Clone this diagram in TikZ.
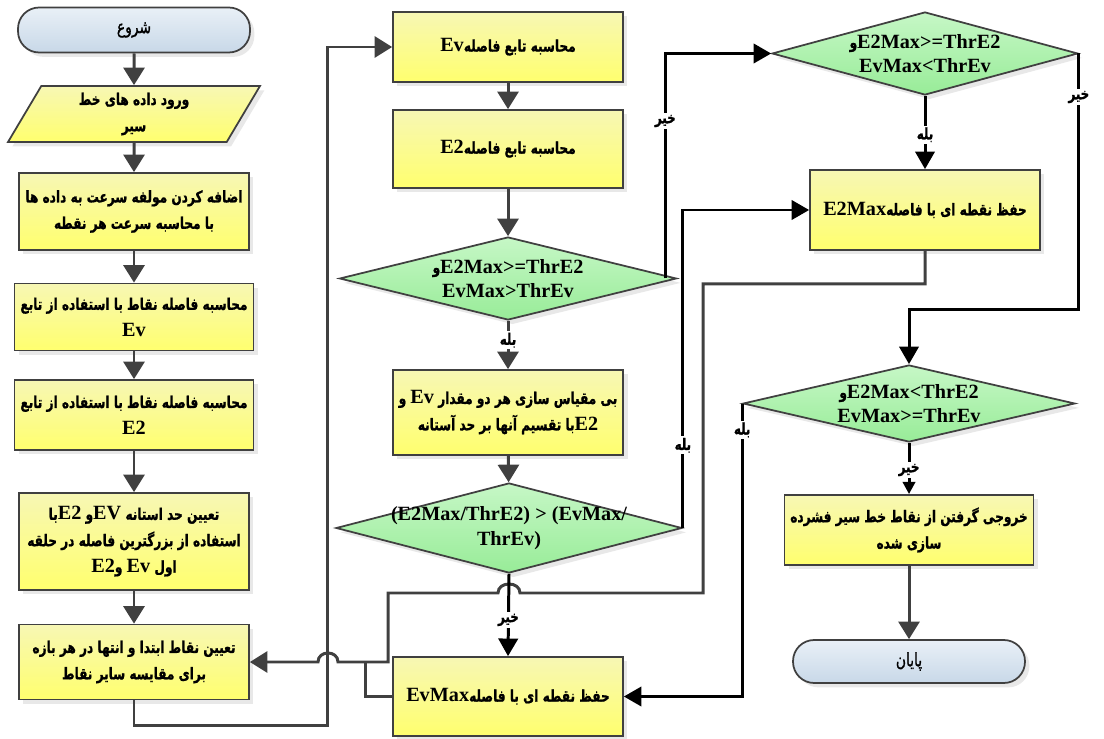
\documentclass[tikz,border=0pt]{standalone}
\usepackage{fontspec}
\usepackage{xcolor}
\usepackage{tikz}
\usetikzlibrary{shapes,arrows.meta,positioning,calc,shadows}
\TeXXeTstate=1
\newfontfamily\fafont[Script=Arabic,FakeStretch=0.75,FakeBold=1]{DejaVu Sans}
\newfontfamily\enfont{Liberation Serif}
\newcommand{\fa}[1]{{\fafont\beginR #1\endR}}
\newcommand{\en}[1]{\beginL{\enfont\fontsize{11.5}{16}\selectfont #1}\endL}
\definecolor{boxlt}{HTML}{F7F7B4}
\definecolor{boxdk}{HTML}{FFFF6E}
\definecolor{declt}{HTML}{C6F7C6}
\definecolor{decdk}{HTML}{98EC98}
\definecolor{termlt}{HTML}{E9F0F7}
\definecolor{termdk}{HTML}{C8D8E8}
\definecolor{linegray}{HTML}{404040}

\begin{document}
\begin{tikzpicture}[x=0.02cm,y=-0.02cm,
  every node/.style={align=center,font=\bfseries\fontsize{9.2}{15}\selectfont},
  shade/.style={drop shadow={shadow xshift=2.5pt,shadow yshift=-2.5pt,opacity=0.18}},
  procbox/.style={rectangle,draw=linegray,line width=1pt,top color=boxlt,bottom color=boxdk,minimum width=4.6cm,shade},
  termbox/.style={rectangle,rounded corners=12pt,draw=linegray,line width=1pt,top color=termlt,bottom color=termdk,minimum width=4.64cm,shade,font=\mdseries\fontsize{10.5}{15}\selectfont},
  iobox/.style={trapezium,trapezium left angle=68,trapezium right angle=112,trapezium stretches=true,draw=linegray,line width=1pt,top color=boxlt,bottom color=boxdk,minimum width=5.08cm,minimum height=1.12cm,shade},
  decision/.style={diamond,draw=linegray,line width=1pt,top color=declt,bottom color=decdk,inner sep=0pt,shade},
  dtext/.style={font=\bfseries\fontsize{9.2}{14}\selectfont},
  flow/.style={draw=linegray,line width=1.7pt,-{Triangle[width=12pt,length=10pt]}},
  flowline/.style={draw=linegray,line width=1.7pt},
  decide/.style={draw=black,line width=1.7pt,-{Triangle[width=11pt,length=10pt]}},
  decidesm/.style={draw=black,line width=1.7pt,-{Triangle[width=7pt,length=7pt]}},
  lbl/.style={fill=white,inner sep=1pt,font=\bfseries\fontsize{9}{10}\selectfont}]
  \useasboundingbox (0,0) rectangle (1104,739);
  % left column
  \node[termbox,minimum height=0.9cm] (start) at (134,30) {\fa{شروع}};
  \node[iobox] (input) at (134,114) {\fa{ورود داده های خط}\\\fa{سیر}};
  \node[procbox,minimum height=1.54cm] (b1) at (134,211.5) {\fa{اضافه کردن مولفه سرعت به داده ها}\\\fa{با محاسبه سرعت هر نقطه}};
  \node[procbox,minimum height=1.34cm] (b2) at (134,317) {\fa{محاسبه فاصله نقاط با استفاده از تابع}\\\en{Ev}};
  \node[procbox,minimum height=1.4cm] (b3) at (134,415) {\fa{محاسبه فاصله نقاط با استفاده از تابع}\\\en{E2}};
  \node[procbox,minimum height=1.94cm] (b4) at (134,541.5) {\fa{تعیین حد استانه \en{EV}و \en{E2}با}\\\fa{استفاده از بزرگترین فاصله در حلقه}\\\fa{اول \en{Ev} و\en{E2}}};
  \node[procbox,minimum height=1.5cm] (b5) at (134,662) {\fa{تعیین نقاط ابتدا و انتها در هر بازه}\\\fa{برای مقایسه سایر نقاط}};
  % middle column
  \node[procbox,minimum height=1.4cm] (ev) at (508,47) {\fa{محاسبه تابع فاصله\en{Ev}}};
  \node[procbox,minimum height=1.56cm] (e2) at (508,149) {\fa{محاسبه تابع فاصله\en{E2}}};
  \node[decision,minimum width=6.74cm,minimum height=1.66cm,label={[dtext]center:{\fa{\en{E2Max>=ThrE2}و}\\\en{EvMax>ThrEv}}}] (d1) at (508,278.5) {};
  \node[procbox,minimum height=1.7cm] (norm) at (508,412.5) {\fa{بی مقیاس سازی هر دو مقدار \en{Ev} و}\\\fa{\en{E2}با تقسیم آنها بر حد آستانه}};
  \node[decision,minimum width=6.92cm,minimum height=1.8cm,label={[dtext]center:{\en{(E2Max/ThrE2) > (EvMax/}\\\en{ThrEv)}}}] (d2) at (509,528) {};
  \node[procbox,minimum height=1.58cm] (evmax) at (508,696.5) {\fa{حفظ نقطه ای با فاصله\en{EvMax}}};
  % right column
  \node[decision,minimum width=6.12cm,minimum height=1.66cm,label={[dtext]center:{\fa{\en{E2Max>=ThrE2}و}\\\en{EvMax<ThrEv}}}] (d3) at (925,53.5) {};
  \node[procbox,minimum height=1.6cm] (e2max) at (925,210) {\fa{حفظ نقطه ای با فاصله\en{E2Max}}};
  \node[decision,minimum width=6.64cm,minimum height=1.54cm,label={[dtext]center:{\fa{\en{E2Max<ThrE2}و}\\\en{EvMax>=ThrEv}}}] (d4) at (909,403.5) {};
  \node[procbox,minimum width=4.92cm,minimum height=1.4cm] (out) at (909,530) {\fa{خروجی گرفتن از نقاط خط سیر فشرده}\\\fa{سازی شده}};
  \node[termbox,minimum height=0.86cm] (fin) at (909,661.5) {\fa{پایان}};
  \coordinate (join) at (365,662);
  % main flow
  \draw[flow] (start) -- (input);
  \draw[flow] (input) -- (b1);
  \draw[flow] (b1) -- (b2);
  \draw[flow] (b2) -- (b3);
  \draw[flow] (b3) -- (b4);
  \draw[flow] (b4) -- (b5);
  \draw[flow] (ev) -- (e2);
  \draw[flow] (e2) -- (d1);
  \draw[flow] (d1) -- node[lbl,pos=0.4]{\fa{بله}} (norm);
  \draw[flow] (norm) -- (d2);
  \draw[flow] (out) -- (fin);
  % loop back
  \draw[flow] (b5.south) -- ++(0,25) -| ($(ev.west)+(-65,0)$) -- (ev.west);
  \draw[flow] (e2max.south) -- ++(0,33) -| (703,593) -- (520,593) .. controls (520,581) and (498,581) .. (498,593) -- (388,593) |- (338,662) .. controls (338,650) and (318,650) .. (318,662) -- (b5.east);
  \draw[flowline] (evmax.west) -| (join);
  % decisions
  \draw[decide] ($(d1.east)+(-12,0)$) |- node[lbl,pos=0.35]{\fa{خیر}} (d3.west);
  \draw[decide] (d2.east) |- node[lbl,pos=0.13]{\fa{بله}} (e2max.west);
  \draw[decide] (d2.south) -- node[lbl,pos=0.56]{\fa{خیر}} (evmax.north);
  \draw[decide] (d3.south) -- node[lbl,pos=0.53]{\fa{بله}} (e2max.north);
  \draw[decide] (d3.east) -- node[lbl,pos=0.17]{\fa{خیر}} ++(0,256) -| (d4.north);
  \draw[decidesm] (d4.south) -- node[lbl,pos=0.53]{\fa{خیر}} (out.north);
  \draw[decide] (d4.west) |- node[lbl,pos=0.045]{\fa{بله}} (evmax.east);
\end{tikzpicture}
\end{document}
